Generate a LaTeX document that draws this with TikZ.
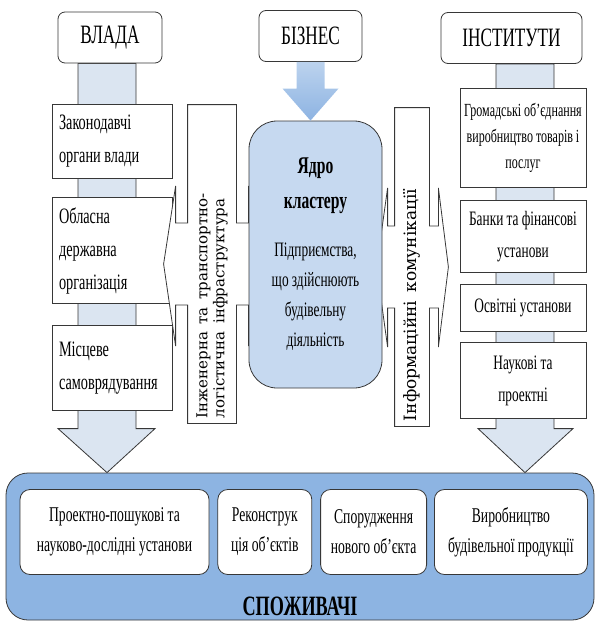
\documentclass[tikz,border=0pt]{standalone}
\usepackage{fontspec}
\setmainfont{Liberation Serif}[FakeStretch=0.65]
\newfontfamily\rotfont{DejaVu Serif}
\usetikzlibrary{positioning, calc, backgrounds}
\definecolor{barblue}{RGB}{219,229,241}
\definecolor{coreblue}{RGB}{198,217,240}
\definecolor{consblue}{RGB}{141,180,226}
\definecolor{arrowtop}{RGB}{188,211,238}
\definecolor{arrowbot}{RGB}{141,179,226}
\definecolor{edgegray}{RGB}{55,55,55}
\tikzset{
  every node/.append style={execute at begin node={\spaceskip=0.16em\relax}},
  head/.style={rectangle, draw=edgegray, fill=white, rounded corners=7pt, minimum width=#1, minimum height=51pt, inner sep=0pt, font=\fontsize{26.5}{30}\selectfont},
  head/.default=104pt,
  unit/.style={rectangle, draw=edgegray, fill=white, text width=106pt, inner xsep=7pt, inner ysep=0pt, minimum height=#1, align=left, font=\fontsize{22}{33}\selectfont},
  inst/.style={rectangle, draw=edgegray, fill=white, text width=124pt, inner xsep=1pt, inner ysep=0pt, minimum height=#1, align=center, font=\fontsize{20.5}{32}\selectfont},
  cons/.style={rectangle, draw=edgegray, fill=white, rounded corners=10pt, text width=#1, inner xsep=3pt, minimum height=85pt, align=center, font=\fontsize{21}{30}\selectfont},
  vbox/.style={rectangle, inner sep=0pt},
  vlabel/.style={rotate=90, anchor=west, align=left, inner sep=0pt, execute at begin node={\spaceskip=0.5em\relax}},
  bigarrow/.style={draw=edgegray, fill=barblue, line width=0.8pt},
  crossarrow/.style={draw=edgegray, fill=white, line width=0.8pt},
}

\begin{document}
\begin{tikzpicture}[x=1pt, y=-1pt, line width=0.8pt]
  \useasboundingbox (0,0) rectangle (596,624);

  % headers
  \node[head] (vlada) at (110,37.5) {ВЛАДА};
  \node[head=103pt] (biznes) at (310.5,36) {БІЗНЕС};
  \node[head=141pt] (instytuty) at (511.5,38) {ІНСТИТУТИ};

  % left column
  \node[unit=74pt] (zak) at (112,141) {Законодавчі\\органи влади};
  \node[unit=106pt, below=19pt of zak] (obl) {Обласна\\державна\\організація};
  \node[unit=85pt, below=21pt of obl] (mis) {Місцеве\\самоврядування};

  % right column
  \node[inst=99pt, font=\fontsize{18.5}{26}\selectfont] (grom) at (523,137.5) {Громадські об’єднання\\виробництво товарів і\\послуг};
  \node[inst=72pt, below=13pt of grom] (banky) {Банки та фінансові\\установи};
  \node[inst=47pt, below=11pt of banky] (osv) {Освітні установи};
  \node[inst=76pt, below=10pt of osv] (nauk) {Наукові та\\проектні};

  % consumers
  \node[rectangle, draw=edgegray, fill=consblue, rounded corners=22pt, minimum width=588pt, minimum height=147pt] (spozh) at (300,546.5) {};
  \node[font=\fontsize{28}{30}\selectfont\bfseries] (spozhtxt) at (300,606) {СПОЖИВАЧІ};
  \node[cons=183pt] (c1) at (114.5,532) {Проектно-пошукові та\\науково-дослідні установи};
  \node[cons=88pt, right=8pt of c1] (c2) {Реконструк\\ція об’єктів};
  \node[cons=100pt, right=8pt of c2] (c3) {Спорудження\\нового об’єкта};
  \node[cons=147pt, right=7pt of c3] (c4) {Виробництво\\будівельної продукції};

  \coordinate (ltip) at ($(spozh.north)+(-193,0)$);
  \coordinate (rtip) at ($(spozh.north)+(225,0)$);

  \begin{scope}[on background layer]
    \draw[bigarrow] ($(ltip |- vlada.south)+(-29,0)$) -- ($(ltip)+(-29,-44)$) -- ($(ltip)+(-49,-44)$) -- (ltip)
      -- ($(ltip)+(48,-44)$) -- ($(ltip)+(29,-44)$) -- ($(ltip |- vlada.south)+(29,0)$) -- cycle;
    \draw[bigarrow] ($(rtip |- instytuty.south)+(-29,0)$) -- ($(rtip)+(-29,-44)$) -- ($(rtip)+(-47,-44)$) -- (rtip)
      -- ($(rtip)+(48,-44)$) -- ($(rtip)+(29,-44)$) -- ($(rtip |- instytuty.south)+(29,0)$) -- cycle;
  \end{scope}

  % infrastructure and communications
  \node[vbox, minimum width=48pt, minimum height=318pt] (infra) at (212,264) {};
  \draw[crossarrow] (infra.north west) -- (infra.north east) -- ($(infra.east)+(0,-41)$) -- ($(infra.east)+(12,-41)$)
    -- ($(infra.east)+(12,-78)$) -- ($(infra.east)+(24,0)$) -- ($(infra.east)+(12,82)$) -- ($(infra.east)+(12,41)$)
    -- ($(infra.east)+(0,41)$) -- (infra.south east) -- (infra.south west) -- ($(infra.west)+(0,41)$)
    -- ($(infra.west)+(-12,41)$) -- ($(infra.west)+(-12,82)$) -- ($(infra.west)+(-24,0)$) -- ($(infra.west)+(-12,-78)$)
    -- ($(infra.west)+(-12,-41)$) -- ($(infra.west)+(0,-41)$) -- cycle;
  \node[vlabel, font=\rotfont\fontsize{15}{17}\selectfont] (infratxt) at ($(infra.south)+(0,-5)$) {Інженерна та транспортно-\\логістична інфраструктура};

  \node[vbox, minimum width=34pt, minimum height=318pt] (komun) at (412,267) {};
  \draw[crossarrow] (komun.north west) -- (komun.north east) -- ($(komun.east)+(0,-41)$) -- ($(komun.east)+(9,-41)$)
    -- ($(komun.east)+(9,-79)$) -- ($(komun.east)+(19,0)$) -- ($(komun.east)+(9,80)$) -- ($(komun.east)+(9,41)$)
    -- ($(komun.east)+(0,41)$) -- (komun.south east) -- (komun.south west) -- ($(komun.west)+(0,41)$)
    -- ($(komun.west)+(-7,41)$) -- ($(komun.west)+(-7,80)$) -- ($(komun.west)+(-18,0)$) -- ($(komun.west)+(-7,-79)$)
    -- ($(komun.west)+(-7,-41)$) -- ($(komun.west)+(0,-41)$) -- cycle;
  \node[vlabel, font=\rotfont\fontsize{17}{19}\selectfont] (komuntxt) at ($(komun.south)+(0,-5)$) {Інформаційні комунікації};

  % cluster core
  \node[rectangle, draw=edgegray, fill=coreblue, rounded corners=28pt, minimum width=133pt, minimum height=267pt, text width=129pt, inner xsep=2pt, align=center, font=\fontsize{20.5}{30}\selectfont] (core) at (315.5,254.5)
    {\textbf{\fontsize{24}{30}\selectfont Ядро}\\[5pt]\textbf{\fontsize{24}{30}\selectfont кластеру}\\[18pt]Підприємства,\\що здійснюють\\будівельну\\діяльність};

  \shade[top color=arrowtop, bottom color=arrowbot] ($(biznes.south)+(-14,0)$) -- ($(biznes.south |- core.north)+(-14,-32)$)
    -- ++(-14,0) -- (biznes.south |- core.north) -- ++(28,-32) -- ++(-14,0) -- ($(biznes.south)+(14,0)$) -- cycle;
\end{tikzpicture}
\end{document}
